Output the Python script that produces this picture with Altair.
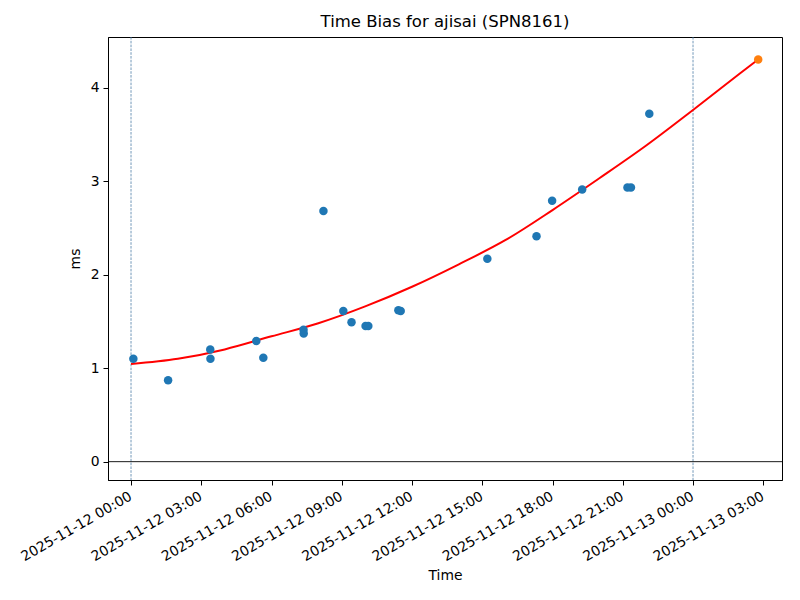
import altair as alt
import pandas as pd

# Measured points (local time) and time bias in ms
point_times = [
    "2025-11-12T00:06:00", "2025-11-12T01:35:00", "2025-11-12T03:23:00", "2025-11-12T03:23:30",
    "2025-11-12T05:21:00", "2025-11-12T05:39:00", "2025-11-12T07:22:00", "2025-11-12T07:22:30",
    "2025-11-12T08:13:00", "2025-11-12T09:04:00", "2025-11-12T09:25:00", "2025-11-12T10:01:00",
    "2025-11-12T10:08:00", "2025-11-12T11:25:00", "2025-11-12T11:31:00", "2025-11-12T15:13:00",
    "2025-11-12T17:19:00", "2025-11-12T17:59:00", "2025-11-12T19:16:00", "2025-11-12T21:12:00",
    "2025-11-12T21:21:00", "2025-11-12T22:08:00",
]
point_values = [
    1.10, 0.87, 1.20, 1.10,
    1.29, 1.11, 1.41, 1.37,
    2.68, 1.61, 1.49, 1.45,
    1.45, 1.62, 1.61, 2.17,
    2.41, 2.79, 2.91, 2.93,
    2.93, 3.72,
]

# Predicted point
pred_times = ["2025-11-13T02:47:00"]
pred_values = [4.30]

# Fitted curve
curve_times = [
    "2025-11-12T00:00:00", "2025-11-12T02:00:00", "2025-11-12T04:00:00", "2025-11-12T06:00:00",
    "2025-11-12T08:00:00", "2025-11-12T10:00:00", "2025-11-12T12:00:00", "2025-11-12T14:00:00",
    "2025-11-12T16:00:00", "2025-11-12T18:00:00", "2025-11-12T20:00:00", "2025-11-12T22:00:00",
    "2025-11-13T00:00:00", "2025-11-13T02:00:00", "2025-11-13T02:47:00",
]
curve_values = [
    1.044, 1.10, 1.20, 1.34,
    1.48, 1.66, 1.87, 2.11,
    2.37, 2.69, 3.03, 3.38,
    3.76, 4.15, 4.30,
]

day_lines = ["2025-11-12T00:00:00", "2025-11-13T00:00:00"]
zero_line = [0]

tick_hours = [(12, 0), (12, 3), (12, 6), (12, 9), (12, 12), (12, 15), (12, 18), (12, 21), (13, 0), (13, 3)]

font = "DejaVu Sans"

pts = pd.DataFrame({"t": point_times, "v": point_values})
pred = pd.DataFrame({"t": pred_times, "v": pred_values})
curve = pd.DataFrame({"t": curve_times, "v": curve_values})
days = pd.DataFrame({"t": day_lines})
zero = pd.DataFrame({"v": zero_line})

x_scale = alt.Scale(
    domain=[alt.DateTime(year=2025, month=11, date=11, hours=23, minutes=1),
            alt.DateTime(year=2025, month=11, date=13, hours=3, minutes=48)],
    nice=False,
)
y_scale = alt.Scale(domain=[-0.196, 4.54], nice=False, zero=False)

x_axis = alt.Axis(
    title="Time",
    values=[alt.DateTime(year=2025, month=11, date=d, hours=h) for d, h in tick_hours],
    format="%Y-%m-%d %H:%M",
    labelAngle=330,
    labelAlign="right",
    labelBaseline="top",
    labelPadding=4,
    labelOffset=-4,
    labelFlush=False,
    labelOverlap=False,
    grid=False,
    titlePadding=5,
)
y_axis = alt.Axis(
    title="ms",
    values=[0, 1, 2, 3, 4],
    format="d",
    grid=False,
    labelPadding=4,
    titlePadding=8,
)

x_enc = alt.X("t:T", scale=x_scale, axis=x_axis)
y_enc = alt.Y("v:Q", scale=y_scale, axis=y_axis)

vlines = alt.Chart(days).mark_rule(color="#4f7fa8", strokeWidth=0.8, strokeDash=[2.6, 1.2], opacity=1).encode(
    x=alt.X("t:T", scale=x_scale, axis=x_axis)
)
hline = alt.Chart(zero).mark_rule(color="black", strokeWidth=0.9).encode(
    y=alt.Y("v:Q", scale=y_scale, axis=y_axis)
)
line = alt.Chart(curve).mark_line(color="red", strokeWidth=2, interpolate="monotone").encode(x=x_enc, y=y_enc)
dots = alt.Chart(pts).mark_circle(color="#1f77b4", size=72, opacity=1).encode(x=x_enc, y=y_enc)
pdot = alt.Chart(pred).mark_circle(color="#ff7f0e", size=72, opacity=1).encode(x=x_enc, y=y_enc)

chart = alt.layer(vlines, hline, line, dots, pdot).properties(
    width=674,
    height=443,
    title=alt.TitleParams("Time Bias for ajisai (SPN8161)", font=font, fontSize=16.5, fontWeight="normal",
                          anchor="middle", color="black", offset=6),
    autosize=alt.AutoSizeParams(type="none"),
    padding={"left": 100, "top": 29, "right": 10, "bottom": 112},
    background="white",
).configure_view(
    stroke="black", strokeWidth=1
).configure_axis(
    labelFont=font, titleFont=font, labelFontSize=13.9, titleFontSize=13.9,
    labelColor="black", titleColor="black", titleFontWeight="normal",
    domainColor="black", domainWidth=1, tickColor="black", tickWidth=1, tickSize=5,
)

chart.save("out.html", embed_options={"renderer": "svg", "actions": False})
